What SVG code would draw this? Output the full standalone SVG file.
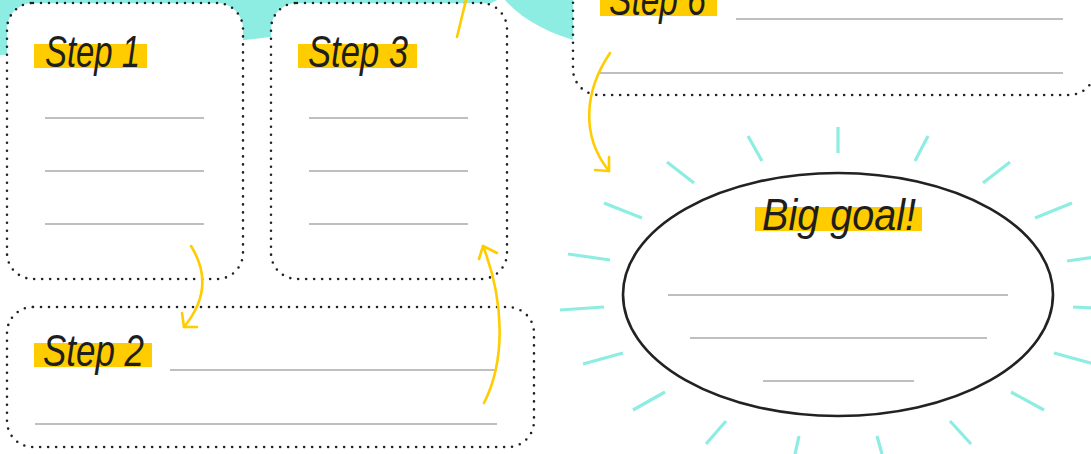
<svg xmlns="http://www.w3.org/2000/svg" width="1091" height="454" viewBox="0 0 1091 454">
<defs>
<style>
.bg{fill:#ffffff}
.teal{fill:#8EEDE2}
.box{fill:#ffffff;stroke:#222222;stroke-width:2.6;stroke-dasharray:0 8;stroke-linecap:round}
.rule{stroke:#aaaaaa;stroke-width:1.3;fill:none}
.hl{fill:#FFCC00}
.lbl{font-family:"Liberation Sans","DejaVu Sans",sans-serif;font-style:italic;font-size:45px;fill:#1e1e1e}
.ray{stroke:#8EEDE2;stroke-width:3.2;stroke-linecap:butt;fill:none}
.arrow{stroke:#FFCC00;stroke-width:2.6;fill:none;stroke-linecap:round;stroke-linejoin:round}
</style>
</defs>
<rect class="bg" x="0" y="0" width="1091" height="454"/>
<g id="background">
<path class="teal" d="M0,0 H497 L486,6 C420,18 320,30 262,38 C190,46 100,50 0,55 Z"/>
<path class="teal" d="M505,0 H580 V42 C550,34 522,20 505,0 Z"/>
</g>
<g id="rays">
<line class="ray" x1="838" y1="127" x2="838" y2="153"/>
<line class="ray" x1="748" y1="136" x2="762" y2="161"/>
<line class="ray" x1="928" y1="136" x2="915" y2="161"/>
<line class="ray" x1="667" y1="162" x2="694" y2="183"/>
<line class="ray" x1="1010" y1="162" x2="983" y2="183"/>
<line class="ray" x1="604" y1="203" x2="642" y2="218"/>
<line class="ray" x1="1072" y1="203" x2="1035" y2="218"/>
<line class="ray" x1="568" y1="254" x2="610" y2="260"/>
<line class="ray" x1="1067" y1="261" x2="1109" y2="255"/>
<line class="ray" x1="560" y1="310" x2="604" y2="307"/>
<line class="ray" x1="1073" y1="307" x2="1117" y2="309"/>
<line class="ray" x1="583" y1="364" x2="623" y2="353"/>
<line class="ray" x1="1054" y1="353" x2="1094" y2="364"/>
<line class="ray" x1="633" y1="410" x2="665" y2="392"/>
<line class="ray" x1="1011" y1="392" x2="1044" y2="410"/>
<line class="ray" x1="706" y1="444" x2="726" y2="421"/>
<line class="ray" x1="950" y1="421" x2="971" y2="444"/>
<line class="ray" x1="799" y1="436" x2="795" y2="454"/>
<line class="ray" x1="877" y1="436" x2="882" y2="454"/>
</g>
<g id="step1">
<rect class="box" x="7" y="3" width="236" height="276" rx="26"/>
<rect class="hl" x="34" y="44" width="113" height="24"/>
<text class="lbl" x="45" y="67" textLength="95" lengthAdjust="spacingAndGlyphs">Step 1</text>
<line class="rule" x1="45" y1="118" x2="204" y2="118"/>
<line class="rule" x1="45" y1="171" x2="204" y2="171"/>
<line class="rule" x1="45" y1="224" x2="204" y2="224"/>
</g>
<g id="step3">
<rect class="box" x="271" y="3" width="236" height="276" rx="26"/>
<rect class="hl" x="298" y="44" width="119" height="24"/>
<text class="lbl" x="308" y="67" textLength="100" lengthAdjust="spacingAndGlyphs">Step 3</text>
<line class="rule" x1="309" y1="118" x2="468" y2="118"/>
<line class="rule" x1="309" y1="171" x2="468" y2="171"/>
<line class="rule" x1="309" y1="224" x2="468" y2="224"/>
</g>
<g id="step2">
<rect class="box" x="7" y="307" width="527" height="140" rx="26"/>
<rect class="hl" x="34" y="343" width="118" height="24"/>
<text class="lbl" x="43" y="366" textLength="101" lengthAdjust="spacingAndGlyphs">Step 2</text>
<line class="rule" x1="170" y1="370" x2="497" y2="370"/>
<line class="rule" x1="35" y1="424" x2="497" y2="424"/>
</g>
<g id="step6">
<rect class="box" x="573" y="-45" width="522" height="140" rx="26"/>
<rect class="hl" x="600" y="-8" width="117" height="24"/>
<text class="lbl" x="609" y="15" textLength="97" lengthAdjust="spacingAndGlyphs">Step 6</text>
<line class="rule" x1="736" y1="19" x2="1063" y2="19"/>
<line class="rule" x1="600" y1="73" x2="1063" y2="73"/>
</g>
<g id="goal">
<ellipse cx="838" cy="294.5" rx="215" ry="121.5" fill="#ffffff" stroke="#222222" stroke-width="2.6"/>
<rect class="hl" x="755" y="207" width="167" height="24"/>
<text class="lbl" x="762" y="230" textLength="154" lengthAdjust="spacingAndGlyphs">Big goal!</text>
<line class="rule" x1="668" y1="295" x2="1008" y2="295"/>
<line class="rule" x1="690" y1="338" x2="987" y2="338"/>
<line class="rule" x1="763" y1="381" x2="914" y2="381"/>
</g>
<g id="connectors">
<path class="arrow" d="M191,246 C206,270 208,298 184,327"/>
<path class="arrow" d="M182,313 L184,327 L197,327"/>
<path class="arrow" d="M484,403 C506,360 504,300 483,246"/>
<path class="arrow" d="M479,259 L483,246 L497,253"/>
<path class="arrow" d="M457,37 L466,0"/>
<path class="arrow" d="M610,53 C585,90 580,135 609,171"/>
<path class="arrow" d="M595,170 L609,171 L609,157"/>
</g>
</svg>
